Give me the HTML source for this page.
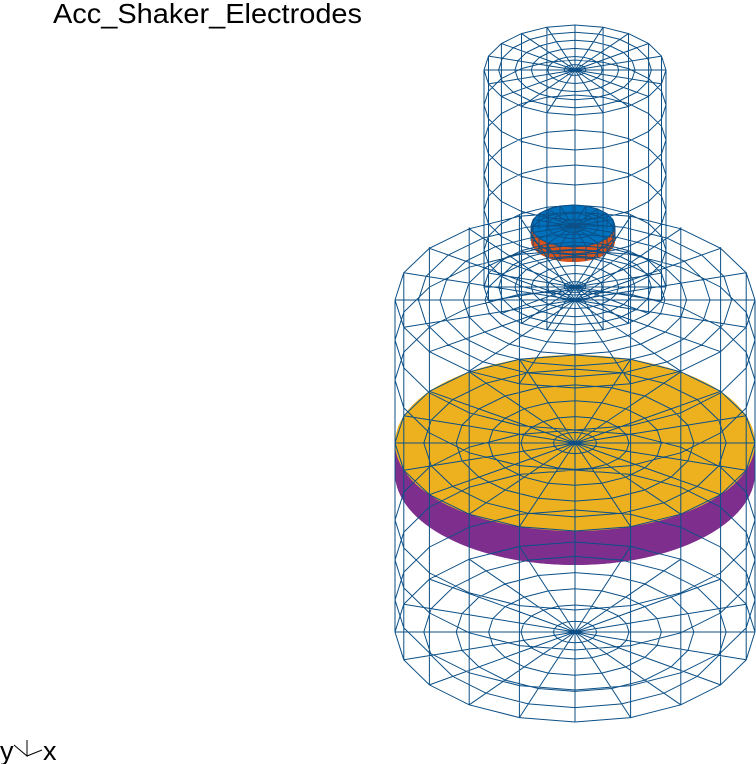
<!DOCTYPE html>
<html><head><meta charset="utf-8"><style>
html,body{margin:0;padding:0;background:#fff;width:756px;height:764px;overflow:hidden}
svg{position:absolute;left:0;top:0}
text{font-family:"Liberation Sans",sans-serif}
</style></head><body>
<svg id="s" width="756" height="764" xmlns="http://www.w3.org/2000/svg">
<text x="53" y="23" font-size="28" textLength="309" lengthAdjust="spacingAndGlyphs" fill="#000">Acc_Shaker_Electrodes</text>
<text x="0" y="760" font-size="27" fill="#000">y</text>
<text x="43" y="760" font-size="27" fill="#000">x</text>
<path d="M14,745 L27,756 L27,740 M27,756 L42,750" stroke="#000" stroke-width="1" fill="none"/>
<g id="fills">
<path d="M395,443 L395,473 A180 92 0 0 0 755 473 L755 443 Z" fill="#7E2F8E"/>
<ellipse cx="575" cy="473" rx="180" ry="92" fill="#7E2F8E"/>
<ellipse cx="575" cy="443" rx="180" ry="88" fill="#EDB120"/>
<path d="M531,226 L531,241 A42 21 0 0 0 615 241 L615 226 Z" fill="#D95319"/>
<ellipse cx="573" cy="241" rx="42" ry="21" fill="#D95319"/>
<ellipse cx="573" cy="226" rx="42" ry="21" fill="#0072BD"/>
</g>
<g id="wire" fill="none" stroke="#0b4f86" stroke-width="1"></g>
</svg>
<script>
var g=document.getElementById('wire'),d='';
var N=20,off=0;
function P(cx,cy,rx,ry,k){var a=k*2*Math.PI/N+off;return [cx+rx*Math.cos(a),cy+ry*Math.sin(a)];}
function ring(cx,cy,rx,ry){var s='';for(var k=0;k<=N;k++){var p=P(cx,cy,rx,ry,k);s+=(k?'L':'M')+p[0].toFixed(1)+','+p[1].toFixed(1);}return s;}
function cap(cx,cy,rx,ry,fr){var s='';fr.forEach(function(f){s+=ring(cx,cy,rx*f,ry*f);});for(var k=0;k<N;k++){var p=P(cx,cy,rx,ry,k);s+='M'+cx+','+cy+'L'+p[0].toFixed(1)+','+p[1].toFixed(1);}return s;}
function side(cx,y1,y2,rx,ry,levels){var s='';for(var k=0;k<N;k++){var a=P(cx,y1,rx,ry,k),b=P(cx,y2,rx,ry,k);s+='M'+a[0].toFixed(1)+','+a[1].toFixed(1)+'L'+b[0].toFixed(1)+','+b[1].toFixed(1);}levels.forEach(function(y){s+=ring(cx,y,rx,ry);});return s;}
var F=[0.12,0.3,0.48,0.66,0.84,1];
d+=cap(575,70,91,45,F);
d+=side(575,70,287,91,45,[105,140,175,210,250]);
d+=cap(575,287,91,45,F);
d+=cap(575,300,180,88,[0.5,0.62,0.75,0.87,1]);
d+=side(575,300,632,180,90,[340,380,520,560,600]);
d+=cap(575,443,180,88,F);
d+=cap(575,632,180,90,F);
d+=cap(573,226,42,21,[0.3,0.6,1]);
d+=side(573,226,241,42,21,[233]);
var p=document.createElementNS('http://www.w3.org/2000/svg','path');p.setAttribute('d',d);g.appendChild(p);
</script>
</body></html>
